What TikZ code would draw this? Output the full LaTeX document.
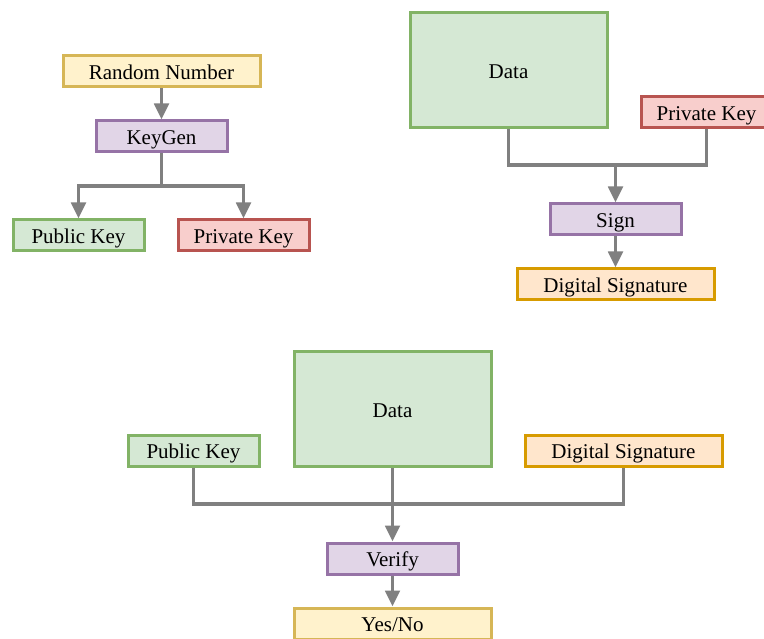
\documentclass[tikz,border=0pt]{standalone}
\usepackage{fontspec}
\setmainfont{Liberation Serif}
\usetikzlibrary{arrows.meta,positioning}
\definecolor{yelF}{HTML}{FFF2CC}\definecolor{yelD}{HTML}{D6B656}
\definecolor{purF}{HTML}{E1D5E7}\definecolor{purD}{HTML}{9673A6}
\definecolor{grnF}{HTML}{D5E8D4}\definecolor{grnD}{HTML}{82B366}
\definecolor{redF}{HTML}{F8CECC}\definecolor{redD}{HTML}{B85450}
\definecolor{orgF}{HTML}{FFE6CC}\definecolor{orgD}{HTML}{D79B00}
\definecolor{lnk}{HTML}{808080}

\begin{document}
\begin{tikzpicture}[x=1pt, y=-1pt,
		yelbox/.style={fill=yelF, draw=yelD},
		purbox/.style={fill=purF, draw=purD},
		grnbox/.style={fill=grnF, draw=grnD},
		redbox/.style={fill=redF, draw=redD},
		orgbox/.style={fill=orgF, draw=orgD},
		wide/.style={minimum width=197pt},
		big/.style={minimum width=197pt, minimum height=115pt},
		link/.style={draw=lnk, line width=3.3pt},
		arr/.style={link, -{Triangle[length=16pt, width=14.5pt]}}]
		\useasboundingbox (0,0) rectangle (764,639);
		\begin{scope}[every node/.style={line width=3pt, inner sep=0pt, minimum width=131pt, minimum height=31pt, text height=16.5pt, text depth=0pt, font=\fontsize{21}{25}\selectfont}]
			% key generation
			\node[yelbox, wide] (rand) at (161.5,71.5) {Random Number};
			\node[purbox] (keygen) at (161.5,136.5) {KeyGen};
			\node[grnbox] (pubA) at (78.5,235.5) {Public Key};
			\node[redbox] (privA) at (243.5,235.5) {Private Key};
			% signing
			\node[grnbox, big] (dataA) at (508.5,70.5) {Data};
			\node[redbox] (privB) at (706.5,112.5) {Private Key};
			\node[purbox] (sign) at (615.5,219.5) {Sign};
			\node[orgbox, wide] (sigA) at (615.5,284.5) {Digital Signature};
			% verification
			\node[grnbox, big] (dataB) at (392.5,409) {Data};
			\node[grnbox] (pubB) at (193.5,450.5) {Public Key};
			\node[orgbox, wide] (sigB) at (623.5,450.5) {Digital Signature};
			\node[purbox] (verify) at (392.5,558.5) {Verify};
			\node[yelbox, wide] (yesno) at (392.5,623.5) {Yes/No};
		\end{scope}
		\coordinate (splitA) at (161.5,186);
		\coordinate (joinA) at (615.5,165);
		\coordinate (joinB) at (392.5,504);
		
		\draw[arr] (rand) -- (keygen);
		\draw[link] (keygen) -- (splitA);
		\draw[arr] (splitA) -| (pubA);
		\draw[arr] (splitA) -| (privA);
		
		\draw[link] (dataA) |- (joinA) -| (privB);
		\draw[arr] (joinA) -- (sign);
		\draw[arr] (sign) -- (sigA);
		
		\draw[link] (pubB) |- (joinB) -| (sigB);
		\draw[arr] (dataB) -- (verify);
		\draw[arr] (verify) -- (yesno);
	\end{tikzpicture}
\end{document}
